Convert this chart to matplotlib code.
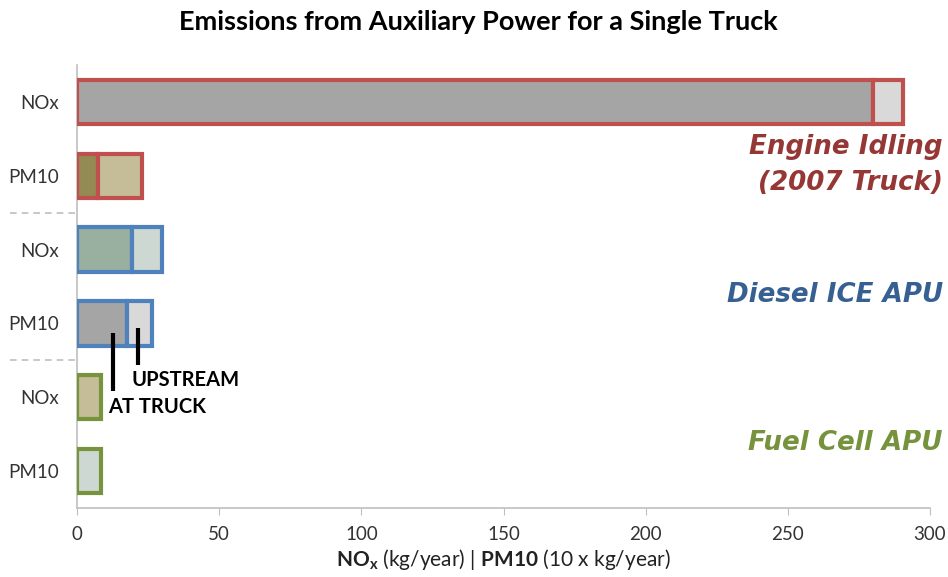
import matplotlib
matplotlib.use("Agg")
import matplotlib.pyplot as plt
from matplotlib.transforms import blended_transform_factory

# ---- data ----
row_labels = ["NOx", "PM10", "NOx", "PM10", "NOx", "PM10"]
group_names = ["Engine Idling\n(2007 Truck)", "Diesel ICE APU", "Fuel Cell APU"]
at_truck = [280, 7.5, 19.5, 17.5, 0, 0]
upstream = [10.5, 15.5, 10.5, 9, 8.5, 8.5]
x_ticks = [0, 50, 100, 150, 200, 250, 300]

# ---- styles ----
at_colors = ["#A5A5A5", "#948A54", "#99AFA0", "#A5A5A5", "#C4BD97", "#CED8D3"]
up_colors = ["#D9D9D9", "#C4BD97", "#CED8D3", "#D9D9D9", "#C4BD97", "#CED8D3"]
edge_colors = ["#C0504D", "#C0504D", "#4F81BD", "#4F81BD", "#77933C", "#77933C"]
group_colors = ["#953735", "#376092", "#76923C"]

plt.rcParams["font.family"] = ["Lato", "DejaVu Sans"]
plt.rcParams["mathtext.fontset"] = "custom"
plt.rcParams["mathtext.rm"] = "Lato"
plt.rcParams["mathtext.bf"] = "Lato:bold"

fig = plt.figure(figsize=(9.48, 5.77), dpi=100)
ax = fig.add_axes([77 / 948, 1 - 508 / 577, (930 - 77) / 948, (508 - 65) / 577])

ypos = list(range(len(row_labels)))
h = 0.6
for i in ypos:
    if at_truck[i] > 0:
        ax.barh(i, at_truck[i], height=h, left=0, color=at_colors[i],
                edgecolor=edge_colors[i], linewidth=3, zorder=3)
    ax.barh(i, upstream[i], height=h, left=at_truck[i], color=up_colors[i],
            edgecolor=edge_colors[i], linewidth=3, zorder=3)

ax.set_xlim(0, 300)
ax.set_ylim(5.5, -0.5)
ax.set_xticks(x_ticks)
ax.set_xticklabels([str(t) for t in x_ticks], fontsize=13.5, color="#333333")
ax.set_yticks(ypos)
ax.set_yticklabels(row_labels, fontsize=13.5, color="#333333")
ax.tick_params(axis="y", length=0, pad=13)
ax.tick_params(axis="x", length=5, color="#BFBFBF", pad=8)
for s in ["top", "right"]:
    ax.spines[s].set_visible(False)
for s in ["left", "bottom"]:
    ax.spines[s].set_color("#BFBFBF")
    ax.spines[s].set_linewidth(1.2)

# group separators outside the axis
trans = blended_transform_factory(ax.transAxes, ax.transData)
for yy in [1.5, 3.5]:
    ax.plot([-67 / 853, 0], [yy, yy], transform=trans, clip_on=False,
            color="#BFBFBF", linestyle=(0, (4, 3)), linewidth=1.2)

# annotations
ax.plot([12.7, 12.7], [3.13, 3.92], color="black", linewidth=3, zorder=5,
        solid_capstyle="butt")
ax.plot([21.5, 21.5], [3.06, 3.56], color="black", linewidth=3, zorder=5,
        solid_capstyle="butt")
ax.text(19.3, 3.77, "UPSTREAM", fontsize=14.5, fontweight="bold", ha="left",
        va="center", color="black")
ax.text(10.9, 4.13, "AT TRUCK", fontsize=14.5, fontweight="bold", ha="left",
        va="center", color="black")

# group labels
gl_y = [165, 295, 443]
for name, c, y in zip(group_names, group_colors, gl_y):
    fig.text(943 / 948, 1 - y / 577, name, ha="right", va="center",
             fontsize=18.8, fontweight="bold", fontstyle="italic",
             family="DejaVu Sans", color=c, linespacing=1.5)

fig.text(478 / 948, 1 - 22 / 577, "Emissions from Auxiliary Power for a Single Truck",
         ha="center", va="center", fontsize=19.5, fontweight="bold", color="black")
ax.set_xlabel(r"$\mathbf{NO_x}$ (kg/year) | $\mathbf{PM10}$ (10 x kg/year)",
              fontsize=15, color="#222222", labelpad=3)

fig.savefig("out.png", dpi=100, facecolor="white")
